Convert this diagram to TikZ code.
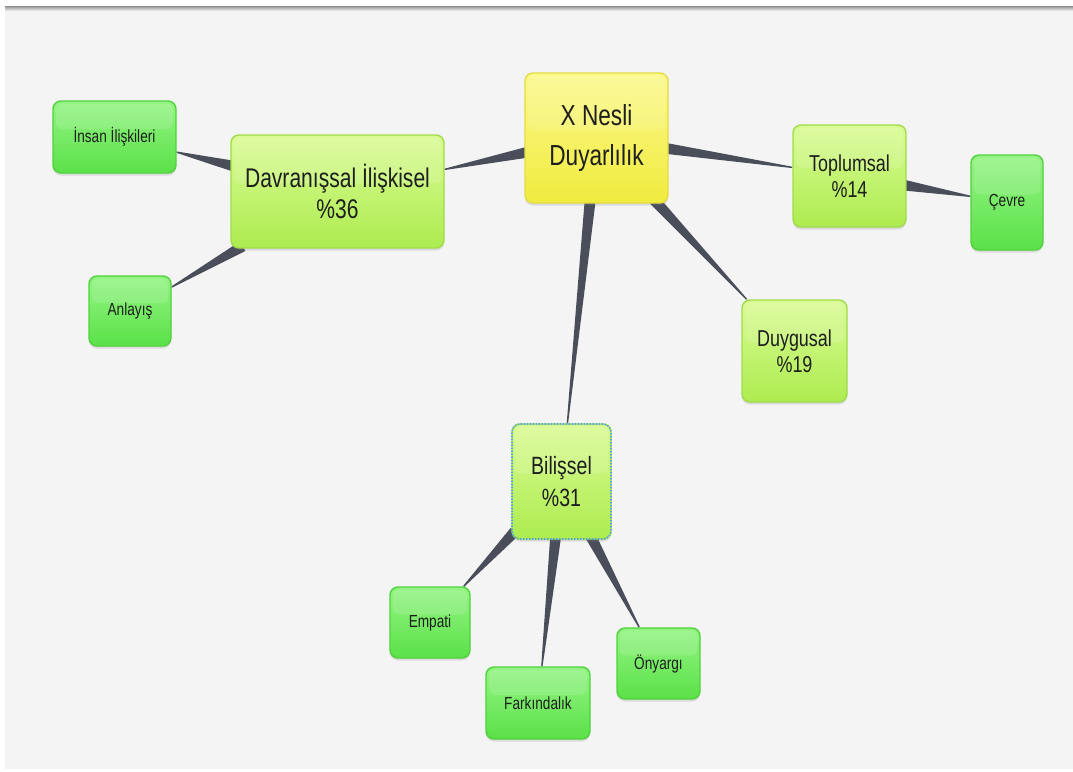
\documentclass[tikz,border=0pt]{standalone}
\usepackage{fontspec}
\setmainfont{Liberation Sans}[FakeStretch=0.78]
\usetikzlibrary{calc,shadows}

\definecolor{pagebg}{HTML}{F4F4F4}
\definecolor{edgeline}{HTML}{8E8E8E}
\definecolor{linkcol}{HTML}{4A4E5B}
\definecolor{txt}{HTML}{1E1E1E}
\definecolor{yTop}{HTML}{FBF98C}
\definecolor{yBot}{HTML}{F0EB3E}
\definecolor{yBorder}{HTML}{E4DC46}
\definecolor{lgTop}{HTML}{DAFB94}
\definecolor{lgBot}{HTML}{ADEC50}
\definecolor{lgBorder}{HTML}{A0DC4A}
\definecolor{gTop}{HTML}{94F484}
\definecolor{gBot}{HTML}{5BE148}
\definecolor{gBorder}{HTML}{50D23C}
\definecolor{selblue}{HTML}{4BA3E6}

\pgfdeclarelayer{back}
\pgfdeclarelayer{links}
\pgfsetlayers{back,links,main}

\tikzset{
  box/.style={rounded corners=8pt, line width=1.4pt, align=center, inner sep=0pt,
    text=txt, drop shadow={opacity=0.22, shadow xshift=0pt, shadow yshift=-2.5pt},
    path picture={\fill[white, opacity=0.12, rounded corners=6pt]
      ($(path picture bounding box.north west)+(3pt,-3pt)$) rectangle
      ($(path picture bounding box.east)+(-3pt,8pt)$);}},
  rootbox/.style={box, draw=yBorder, top color=yTop, bottom color=yBot,
    font=\fontsize{29}{40}\selectfont},
  mainbox/.style={box, draw=lgBorder, top color=lgTop, bottom color=lgBot},
  leafbox/.style={box, draw=gBorder, top color=gTop, bottom color=gBot,
    font=\fontsize{17.5}{22}\selectfont},
  bigtext/.style={font=\fontsize{27}{31}\selectfont},
  midtext/.style={font=\fontsize{25}{32}\selectfont},
  smalltext/.style={font=\fontsize{23}{26}\selectfont},
  selected/.style={postaction={draw=selblue, line width=1.6pt, dash pattern=on 1.4pt off 1.6pt}},
}

% tapered connector: wide where it leaves the parent, thin at the child
\newcommand\wedgelink[2]{%
  \path (#1) -- (#2) coordinate[pos=0] (#1#2s) coordinate[pos=1] (#1#2e);
  \coordinate (#1#2p) at ($(#1#2s)!-5pt!(#1#2e)$);
  \fill[linkcol] ($(#1#2p)!5.5pt!90:(#1#2e)$) -- ($(#1#2p)!5.5pt!-90:(#1#2e)$)
    -- ($(#1#2e)!0.7pt!90:(#1#2p)$) -- ($(#1#2e)!0.7pt!-90:(#1#2p)$) -- cycle;
}

\begin{document}
\begin{tikzpicture}[x=1pt, y=-1pt]
\useasboundingbox (0,0) rectangle (1073,771);

\begin{pgfonlayer}{back}
  \fill[white] (0,0) rectangle (1073,771);
  \fill[pagebg] (5,7) rectangle (1073,769);
  \shade[top color=black!35, bottom color=pagebg] (5,7) rectangle (1073,11);
  \draw[edgeline, line width=1.2pt] (5,6.5) -- (1073,6.5);
\end{pgfonlayer}

% root
\node[rootbox, minimum width=143pt, minimum height=130pt] (root) at (596.5,138)
  {X Nesli\\Duyarlılık};

% first level
\node[mainbox, bigtext, minimum width=213pt, minimum height=113pt] (dav) at (337.5,191.5)
  {Davranışsal İlişkisel\\\%36};
\node[mainbox, smalltext, minimum width=113pt, minimum height=102pt] (top) at (849.5,176)
  {Toplumsal\\\%14};
\node[mainbox, smalltext, minimum width=105pt, minimum height=102pt] (duy) at (794.5,351)
  {Duygusal\\\%19};
\node[mainbox, midtext, selected, minimum width=99pt, minimum height=115pt] (bil) at (561.5,481.5)
  {Bilişsel\\\%31};

% second level
\node[leafbox, minimum width=123pt, minimum height=72pt] (ins) at (114.5,137) {İnsan İlişkileri};
\node[leafbox, minimum width=82pt, minimum height=70pt] (anl) at (130,311) {Anlayış};
\node[leafbox, minimum width=72pt, minimum height=95pt] (cev) at (1007,202.5) {Çevre};
\node[leafbox, minimum width=80pt, minimum height=71pt] (emp) at (430,622.5) {Empati};
\node[leafbox, minimum width=104pt, minimum height=72pt] (far) at (538,703) {Farkındalık};
\node[leafbox, minimum width=83pt, minimum height=71pt] (ony) at (658.5,663.5) {Önyargı};

\begin{pgfonlayer}{links}
  \wedgelink{root}{dav}
  \wedgelink{root}{top}
  \wedgelink{root}{duy}
  \wedgelink{root}{bil}
  \wedgelink{dav}{ins}
  \wedgelink{dav}{anl}
  \wedgelink{top}{cev}
  \wedgelink{bil}{emp}
  \wedgelink{bil}{far}
  \wedgelink{bil}{ony}
\end{pgfonlayer}
\end{tikzpicture}
\end{document}
